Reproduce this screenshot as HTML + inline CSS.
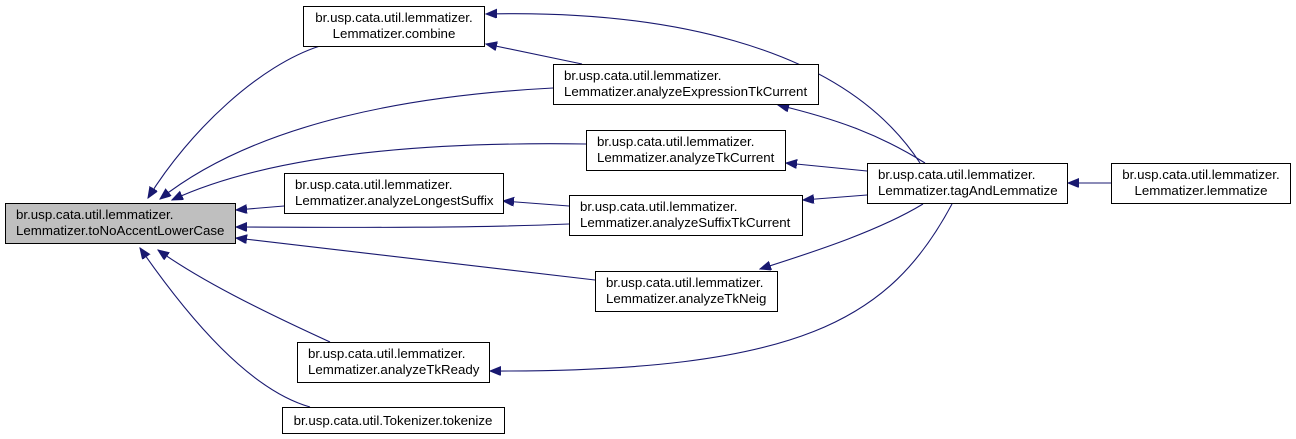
<!DOCTYPE html>
<html><head><meta charset="utf-8"><style>
html,body{margin:0;padding:0;background:#fff;width:1296px;height:439px;overflow:hidden}
svg{display:block}
text{font-family:"Liberation Sans",sans-serif;font-size:13.3px;fill:#000}
</style></head><body>
<svg width="1296" height="439" viewBox="0 0 1296 439" xmlns="http://www.w3.org/2000/svg">
<defs>
<marker id="a" markerUnits="userSpaceOnUse" markerWidth="12" markerHeight="10" refX="11" refY="4.5" orient="auto-start-reverse">
<path d="M0,0 L11,4.5 L0,9 z" fill="#191970" stroke="#191970"/>
</marker>
</defs>
<g fill="none" stroke="#191970" stroke-width="1.1" marker-start="url(#a)">
<path d="M148,198 C190,130 260,65 320,46"/>
<path d="M160,199 C260,120 420,95 553,88"/>
<path d="M172,200 C280,150 450,142 586,144"/>
<path d="M236,210 L284,206"/>
<path d="M236,227 C300,227 450,229 569,224"/>
<path d="M236,238 L595,280"/>
<path d="M158,250 C200,280 260,310 330,342"/>
<path d="M140,248 C190,320 250,390 310,407"/>
<path d="M486,14 C650,10 840,40 920,163"/>
<path d="M486,44 L582,64"/>
<path d="M778,105 C840,120 880,135 925,163"/>
<path d="M786,163 L867,171"/>
<path d="M803,200 L867,195"/>
<path d="M760,269 C820,250 880,230 923,204"/>
<path d="M490,371 C800,372 890,320 952,204"/>
<path d="M1068,183 L1111,183"/>
<path d="M503,201 L569,206"/>
</g>
<g stroke="#000" stroke-width="1">
<rect x="5.5" y="203.5" width="230" height="40" fill="#bfbfbf"/>
<rect x="303.5" y="6.5" width="181" height="40" fill="#fff"/>
<rect x="553.5" y="64.5" width="265" height="40" fill="#fff"/>
<rect x="586.5" y="130.5" width="199" height="40" fill="#fff"/>
<rect x="284.5" y="173.5" width="219" height="40" fill="#fff"/>
<rect x="569.5" y="195.5" width="233" height="40" fill="#fff"/>
<rect x="595.5" y="271.5" width="182" height="40" fill="#fff"/>
<rect x="297.5" y="342.5" width="192" height="40" fill="#fff"/>
<rect x="282.5" y="407.5" width="222" height="26" fill="#fff"/>
<rect x="867.5" y="163.5" width="200" height="40" fill="#fff"/>
<rect x="1111.5" y="163.5" width="179" height="40" fill="#fff"/>
</g>
<g>
<text x="16" y="219">br.usp.cata.util.lemmatizer.</text>
<text x="16" y="235">Lemmatizer.toNoAccentLowerCase</text>
<text x="394" y="22" text-anchor="middle">br.usp.cata.util.lemmatizer.</text>
<text x="394" y="38" text-anchor="middle">Lemmatizer.combine</text>
<text x="564" y="80">br.usp.cata.util.lemmatizer.</text>
<text x="564" y="96">Lemmatizer.analyzeExpressionTkCurrent</text>
<text x="597" y="146">br.usp.cata.util.lemmatizer.</text>
<text x="597" y="162">Lemmatizer.analyzeTkCurrent</text>
<text x="295" y="189">br.usp.cata.util.lemmatizer.</text>
<text x="295" y="205">Lemmatizer.analyzeLongestSuffix</text>
<text x="580" y="211">br.usp.cata.util.lemmatizer.</text>
<text x="580" y="227">Lemmatizer.analyzeSuffixTkCurrent</text>
<text x="606" y="287">br.usp.cata.util.lemmatizer.</text>
<text x="606" y="303">Lemmatizer.analyzeTkNeig</text>
<text x="308" y="358">br.usp.cata.util.lemmatizer.</text>
<text x="308" y="374">Lemmatizer.analyzeTkReady</text>
<text x="393" y="425" text-anchor="middle">br.usp.cata.util.Tokenizer.tokenize</text>
<text x="878" y="179">br.usp.cata.util.lemmatizer.</text>
<text x="878" y="195">Lemmatizer.tagAndLemmatize</text>
<text x="1201" y="179" text-anchor="middle">br.usp.cata.util.lemmatizer.</text>
<text x="1201" y="195" text-anchor="middle">Lemmatizer.lemmatize</text>
</g>
</svg>
</body></html>
